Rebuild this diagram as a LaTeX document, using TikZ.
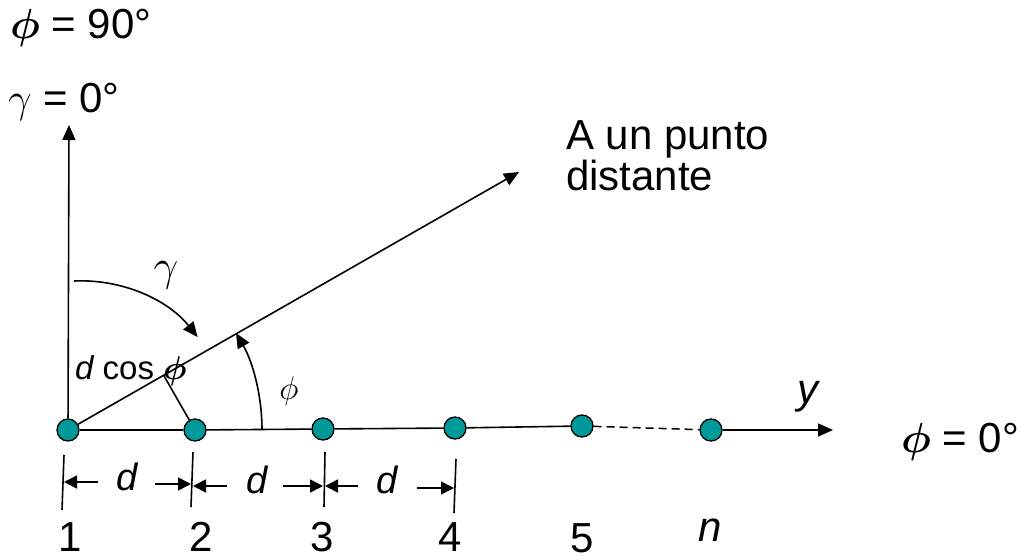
\RequirePackage{fix-cm}
\documentclass[tikz,border=0pt]{standalone}
\usepackage{fontspec}
\setmainfont{Liberation Sans}
\usetikzlibrary{arrows.meta}
\definecolor{tealdot}{RGB}{0,153,153}
\newcommand{\fbig}{\fontsize{42}{50}\selectfont}
\newcommand{\fmid}{\fontsize{38}{46}\selectfont}
\newcommand{\fsml}{\fontsize{33}{40}\selectfont}
\newcommand{\fgam}{\fontsize{44}{52}\selectfont}
\newcommand{\bphi}{{\boldmath$\phi$}}
\begin{document}
\begin{tikzpicture}[x=1pt,y=-1pt,font=\fbig,
  dot/.style={circle,draw=black,fill=tealdot,minimum size=22pt,inner sep=0pt,line width=1.3pt},
  ln/.style={line width=1.6pt},
  arr/.style={ln,-{Triangle[length=15pt,width=13pt]}},
  darr/.style={ln,-{Triangle[length=13pt,width=13pt]}},
  lbl/.style={inner sep=0pt,anchor=base west},
  num/.style={inner sep=0pt,anchor=base}]
\useasboundingbox (0,0) rectangle (1020,556);
% array elements
\node[dot] (c1) at (68,430) {};
\node[dot] (c2) at (195,430) {};
\node[dot] (c3) at (323,429) {};
\node[dot] (c4) at (455,428) {};
\node[dot] (c5) at (582,426) {};
\node[dot] (cn) at (711,430) {};
\draw[ln] (c1) -- (c2);
\draw[ln] (c2) -- (c3);
\draw[ln] (c3) -- (c4);
\draw[ln] (c4) -- (c5);
\draw[line width=1.5pt,dash pattern=on 8pt off 5pt] (c5) -- (cn);
\coordinate (yend) at (833,430);
\draw[arr] (cn) -- (yend);
% vertical axis and direction line
\coordinate (ztop) at (69,125);
\draw[arr] (c1) -- (ztop);
\coordinate (far) at (519,172);
\draw[arr] (c1) -- (far);
% perpendicular d cos phi
\coordinate (foot) at (163.6,375.2);
\draw[ln] (c2) -- (foot);
% phi arc
\coordinate (phis) at (262,430);
\draw[arr] (phis) arc[start angle=0,end angle=-30,radius=194];
% gamma arc
\coordinate (gs) at (74,281);
\draw[arr] (gs) arc[start angle=-92.7,end angle=-38.5,radius=149];
% dimension ticks
\coordinate (t1a) at (64,455); \coordinate (t1b) at (62,510);
\coordinate (t2a) at (193,452); \coordinate (t2b) at (191,507);
\coordinate (t3a) at (325,452); \coordinate (t3b) at (324,507);
\coordinate (t4a) at (456,459); \coordinate (t4b) at (454,513);
\draw[ln] (t1a) -- (t1b);
\draw[ln] (t2a) -- (t2b);
\draw[ln] (t3a) -- (t3b);
\draw[ln] (t4a) -- (t4b);
% dimension arrows
\coordinate (a1s) at (98,482); \coordinate (a1e) at (64,482);
\coordinate (b1s) at (155,484); \coordinate (b1e) at (191,484);
\coordinate (a2s) at (227,486); \coordinate (a2e) at (193,486);
\coordinate (b2s) at (283,486); \coordinate (b2e) at (323,486);
\coordinate (a3s) at (358,486); \coordinate (a3e) at (325,486);
\coordinate (b3s) at (417,488); \coordinate (b3e) at (454,488);
\draw[darr] (a1s) -- (a1e);
\draw[darr] (b1s) -- (b1e);
\draw[darr] (a2s) -- (a2e);
\draw[darr] (b2s) -- (b2e);
\draw[darr] (a3s) -- (a3e);
\draw[darr] (b3s) -- (b3e);
\node[num,font=\fmid] (d1) at (127,490) {\itshape d};
\node[num,font=\fmid] (d2) at (257,493) {\itshape d};
\node[num,font=\fmid] (d3) at (387,493) {\itshape d};
% element numbers
\node[num] (n1) at (70,551) {1};
\node[num] (n2) at (201,551) {2};
\node[num] (n3) at (322,551) {3};
\node[num] (n4) at (450,551) {4};
\node[num] (n5) at (582,552) {5};
\node[num] (nn) at (710,541) {\itshape n};
% labels
\node[lbl] (p90) at (10,39) {\bphi{} = 90°};
\node[lbl] (g0) at (8,113) {$\gamma$ = 0°};
\node[lbl] (p0) at (901,452) {\bphi{} = 0°};
\node[lbl] (ylab) at (797,403) {\itshape y};
\node[lbl] (dest1) at (566,150) {A un punto};
\node[lbl] (dest2) at (566,191) {distante};
\node[lbl,font=\fsml] (dcos) at (75,379) {\itshape d\upshape{} cos \bphi};
\node[inner sep=0pt,font=\fsml] (phil) at (289,391) {$\phi$};
\node[inner sep=0pt,font=\fgam] (gaml) at (166,275) {$\gamma$};
\end{tikzpicture}
\end{document}
